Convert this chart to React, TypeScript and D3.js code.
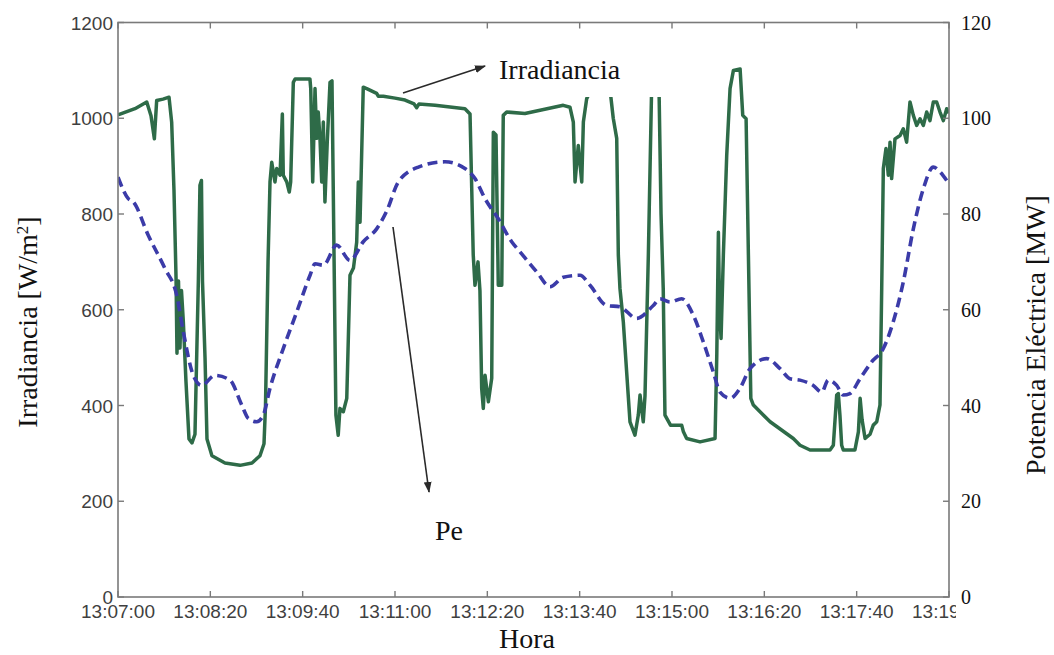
import React from 'react';
import * as d3 from 'd3';

// seconds after 13:07:00
const irrSeconds = [
  0, 14.7, 24.9, 28.6, 31.5, 33.5, 39, 44.2, 46.5, 48.5, 50.3, 51.1, 52.4, 53.7, 55, 56.6, 58.9, 61.5, 64.1, 66.7,
  69.6, 71, 72.3, 73.2, 75.4, 77.1, 81.4, 92.7, 105.7, 116.1, 123, 126.5, 127.8, 130, 131.7, 133.2, 136, 137.5, 140.4, 142.4,
  143.2, 146.2, 148.4, 149.6, 151.9, 153.4, 166.3, 167, 168.7, 170.7, 172.2, 173.5, 175, 176.5, 177.9, 179.3, 181.3, 183.7, 185.4, 186.5,
  188.8, 190.8, 192.3, 195.2, 198.2, 201, 204, 206.8, 208.2, 209.7, 212.5, 215.5, 224.1, 225.5, 229.9, 240, 248.7, 256.5, 258.8, 260.8,
  274.7, 300.6, 305, 307.8, 309.3, 311.9, 313.6, 315.1, 316.5, 318, 320.9, 323.8, 325.2, 327.5, 329.5, 332.5, 333.8, 336.8, 352.6, 385.8,
  391.6, 394.5, 396, 398.8, 401.8, 403.2, 406.1, 409, 426.3, 429.1, 432.1, 433.5, 434.9, 437.8, 440.7, 443.6, 447.9, 450.8, 452.3, 455.1,
  456.6, 459.5, 462.4, 468.7, 470.5, 472.4, 473.9, 478.7, 488.4, 489.9, 492.7, 504.3, 517.3, 518.8, 520.2, 521.2, 522.5, 524.5, 527.4, 530.3,
  533.2, 539, 541.3, 544.2, 546.2, 548.3, 550.5, 565, 585.1, 590.9, 599.6, 616.9, 619.8, 622.7, 624.1, 625.5, 627, 628.4, 638.5, 641.5,
  643, 644.7, 647.3, 651.6, 654.4, 657.4, 658.5, 660.2, 661.7, 663.1, 665.4, 667.4, 668.9, 670.3, 673.2, 677.6, 680.4, 683.3, 686.2, 689.1,
  692, 694.9, 697.8, 700.7, 703.5, 706.4, 709.3, 712.2, 715.1, 718, 719.4,
];
const irrValues = [
  1007, 1020, 1034, 1005, 957, 1037, 1040, 1044, 992, 850, 665, 509, 660, 520, 640, 575, 450, 330, 322, 340,
  658, 860, 870, 660, 500, 330, 295, 280, 275, 280, 295, 320, 400, 700, 867, 908, 867, 895, 881, 1009,
  881, 867, 846, 867, 1075, 1082, 1082, 1062, 867, 1062, 958, 1013, 958, 867, 992, 825, 950, 1075, 1078, 853,
  380, 338, 394, 387, 415, 672, 687, 741, 867, 783, 1065, 1062, 1052, 1046, 1046, 1042, 1038, 1030, 1022, 1030,
  1027, 1020, 1009, 714, 651, 700, 640, 436, 394, 463, 408, 457, 971, 965, 651, 651, 1006, 1013, 1010, 1027,
  1023, 992, 867, 943, 867, 992, 1041, 1055, 1060, 1000, 958, 714, 645, 575, 470, 366, 338, 380, 422, 366,
  420, 714, 1070, 1070, 800, 645, 380, 359, 359, 345, 331, 324, 331, 505, 762, 600, 540, 714, 922, 1062,
  1100, 1103, 1006, 999, 714, 415, 401, 366, 331, 317, 307, 307, 317, 422, 425, 380, 317, 307, 307, 345,
  415, 370, 331, 340, 359, 366, 380, 401, 645, 895, 937, 881, 950, 874, 957, 964, 978, 950, 1034, 1006,
  985, 999, 985, 1013, 995, 1034, 1034, 1013, 995, 1020, 1010,
];

const peSeconds = [
  0, 8.9, 13.3, 26.3, 40.7, 50.9, 56.6, 65.2, 72.5, 84, 97, 107.2, 112.9, 120.2, 125.9, 131.7, 143.2, 154.8, 166.4, 170.7,
  177.9, 189.5, 201, 212.5, 224.1, 232.8, 242.9, 260.2, 283.3, 300.6, 309.3, 318, 329.5, 341.1, 348.3, 362.8, 374.3, 385.8, 400.3, 409,
  423.4, 434.9, 449.4, 463.8, 469.6, 478.3, 488.4, 498.4, 507.1, 515.8, 521.6, 530.3, 538.9, 547.6, 562, 573.6, 582.2, 590.9, 602.4, 609.7,
  615.4, 622.7, 628.4, 634.2, 642.9, 653, 663.1, 671.7, 680.4, 689.1, 697.8, 706.4, 712.2, 718,
];
const peValues = [
  87.7, 83.2, 82.5, 75.5, 68.6, 63, 55.4, 46.3, 44.2, 46.3, 45.3, 40.1, 37.3, 36.6, 38, 43.6, 51.9, 59.5, 67.2, 69.6,
  69.3, 73.5, 70.3, 74.2, 76.9, 80.6, 86.7, 89.8, 90.9, 89.5, 87.4, 83.2, 79, 74.2, 72.1, 67.9, 64.8, 66.8, 67.2, 65.1,
  60.9, 60.6, 58.2, 60.9, 62.3, 61.6, 62.3, 58.9, 53.3, 47, 42.8, 41.5, 43.6, 47.7, 49.8, 47.7, 45.6, 45.3, 44.2, 42.8,
  45.3, 44.2, 42.2, 42.5, 45.6, 49.1, 51.9, 57.5, 65.8, 76.9, 85.3, 89.8, 88.8, 87,
];

const xTickSeconds = [0, 80, 160, 240, 320, 400, 480, 560, 640, 720];
const xTickLabels = ['13:07:00', '13:08:20', '13:09:40', '13:11:00', '13:12:20', '13:13:40', '13:15:00', '13:16:20', '13:17:40', '13:19:00'];
const leftTicks = [0, 200, 400, 600, 800, 1000, 1200];
const rightTicks = [0, 20, 40, 60, 80, 100, 120];

const W = 1054;
const H = 655;
const left = 118, right = 949, top = 22.5, bottom = 597;
const serif = '"Liberation Serif", "Times New Roman", serif';
const sans = '"Liberation Sans", Arial, sans-serif';
const axisColor = '#7a7a7a';

export default function App() {
  const x = d3.scaleLinear().domain([0, 720]).range([left, right]);
  const yL = d3.scaleLinear().domain([0, 1200]).range([bottom, top]);
  const yR = d3.scaleLinear().domain([0, 120]).range([bottom, top]);

  const irrLine = d3.line<number>().x((_, i) => x(irrSeconds[i])).y((d) => yL(d));
  const peLine = d3.line<number>().x((_, i) => x(peSeconds[i])).y((d) => yR(d)).curve(d3.curveMonotoneX);

  return (
    <svg width={W} height={H} style={{ position: 'absolute', left: 0, top: 0, background: '#fff' }}>
      <defs>
        <clipPath id="plotClip">
          <rect x={left} y={top} width={right - left} height={bottom - top} />
        </clipPath>
        <clipPath id="xLabelClip">
          <rect x={0} y={590} width={956} height={40} />
        </clipPath>
        <marker id="arrowHead" viewBox="0 0 10 10" refX="9" refY="5" markerWidth="7" markerHeight="7" orient="auto">
          <path d="M0,1.5 L10,5 L0,8.5 z" fill="#2a2a2a" />
        </marker>
      </defs>
      <rect x={0} y={0} width={W} height={H} fill="#fff" />

      <g clipPath="url(#plotClip)">
        <path d={irrLine(irrValues) || ''} fill="none" stroke="#2e6b48" strokeWidth={3.5} strokeLinejoin="round" />
        <path d={peLine(peValues) || ''} fill="none" stroke="#3b3ba8" strokeWidth={3.6} strokeDasharray="10,5.5" />
      </g>

      {/* white boxes behind the annotation labels */}
      <rect x={482} y={32} width={208} height={65} fill="#fff" />
      <rect x={420} y={510} width={70} height={45} fill="#fff" />

      {/* frame */}
      <rect x={left} y={top} width={right - left} height={bottom - top} fill="none" stroke={axisColor} strokeWidth={1.6} />

      {/* x ticks (bottom and top, inward) */}
      {xTickSeconds.map((s, i) => (
        <g key={'xt' + i}>
          <line x1={x(s)} x2={x(s)} y1={bottom} y2={bottom - 6} stroke={axisColor} strokeWidth={1.4} />
          <line x1={x(s)} x2={x(s)} y1={top} y2={top + 6} stroke={axisColor} strokeWidth={1.4} />
        </g>
      ))}
      <g clipPath="url(#xLabelClip)">
        {xTickSeconds.map((s, i) => (
          <text key={'xl' + i} x={x(s)} y={618} textAnchor="middle" fontFamily={sans} fontSize={19} fill="#3f3f3f">
            {xTickLabels[i]}
          </text>
        ))}
      </g>

      {/* left axis */}
      {leftTicks.map((v) => (
        <g key={'l' + v}>
          <line x1={left} x2={left + 6} y1={yL(v)} y2={yL(v)} stroke={axisColor} strokeWidth={1.4} />
          <text x={113} y={yL(v) + 7} textAnchor="end" fontFamily={sans} fontSize={19} fill="#3f3f3f">
            {v}
          </text>
        </g>
      ))}

      {/* right axis */}
      {rightTicks.map((v) => (
        <g key={'r' + v}>
          <line x1={right} x2={right - 6} y1={yR(v)} y2={yR(v)} stroke={axisColor} strokeWidth={1.4} />
          <text x={961} y={yR(v) + 7} textAnchor="start" fontFamily={serif} fontSize={20} fill="#111">
            {v}
          </text>
        </g>
      ))}

      {/* axis titles */}
      <text x={527} y={648} textAnchor="middle" fontFamily={serif} fontSize={28} fill="#111">Hora</text>
      <text transform="translate(37,322) rotate(-90)" textAnchor="middle" fontFamily={serif} fontSize={28} fill="#111">
        Irradiancia [W/m<tspan baselineShift="super" fontSize={17}>2</tspan>]
      </text>
      <text transform="translate(1045,335) rotate(-90)" textAnchor="middle" fontFamily={serif} fontSize={28} fill="#111">
        Potencia Eléctrica [MW]
      </text>

      {/* annotations */}
      <line x1={403} y1={93} x2={485} y2={66} stroke="#2a2a2a" strokeWidth={1.6} markerEnd="url(#arrowHead)" />
      <text x={499} y={79} fontFamily={serif} fontSize={28} fill="#111">Irradiancia</text>
      <line x1={393} y1={227} x2={429} y2={492} stroke="#2a2a2a" strokeWidth={1.6} markerEnd="url(#arrowHead)" />
      <text x={435} y={540} fontFamily={serif} fontSize={28} fill="#111">Pe</text>
    </svg>
  );
}
